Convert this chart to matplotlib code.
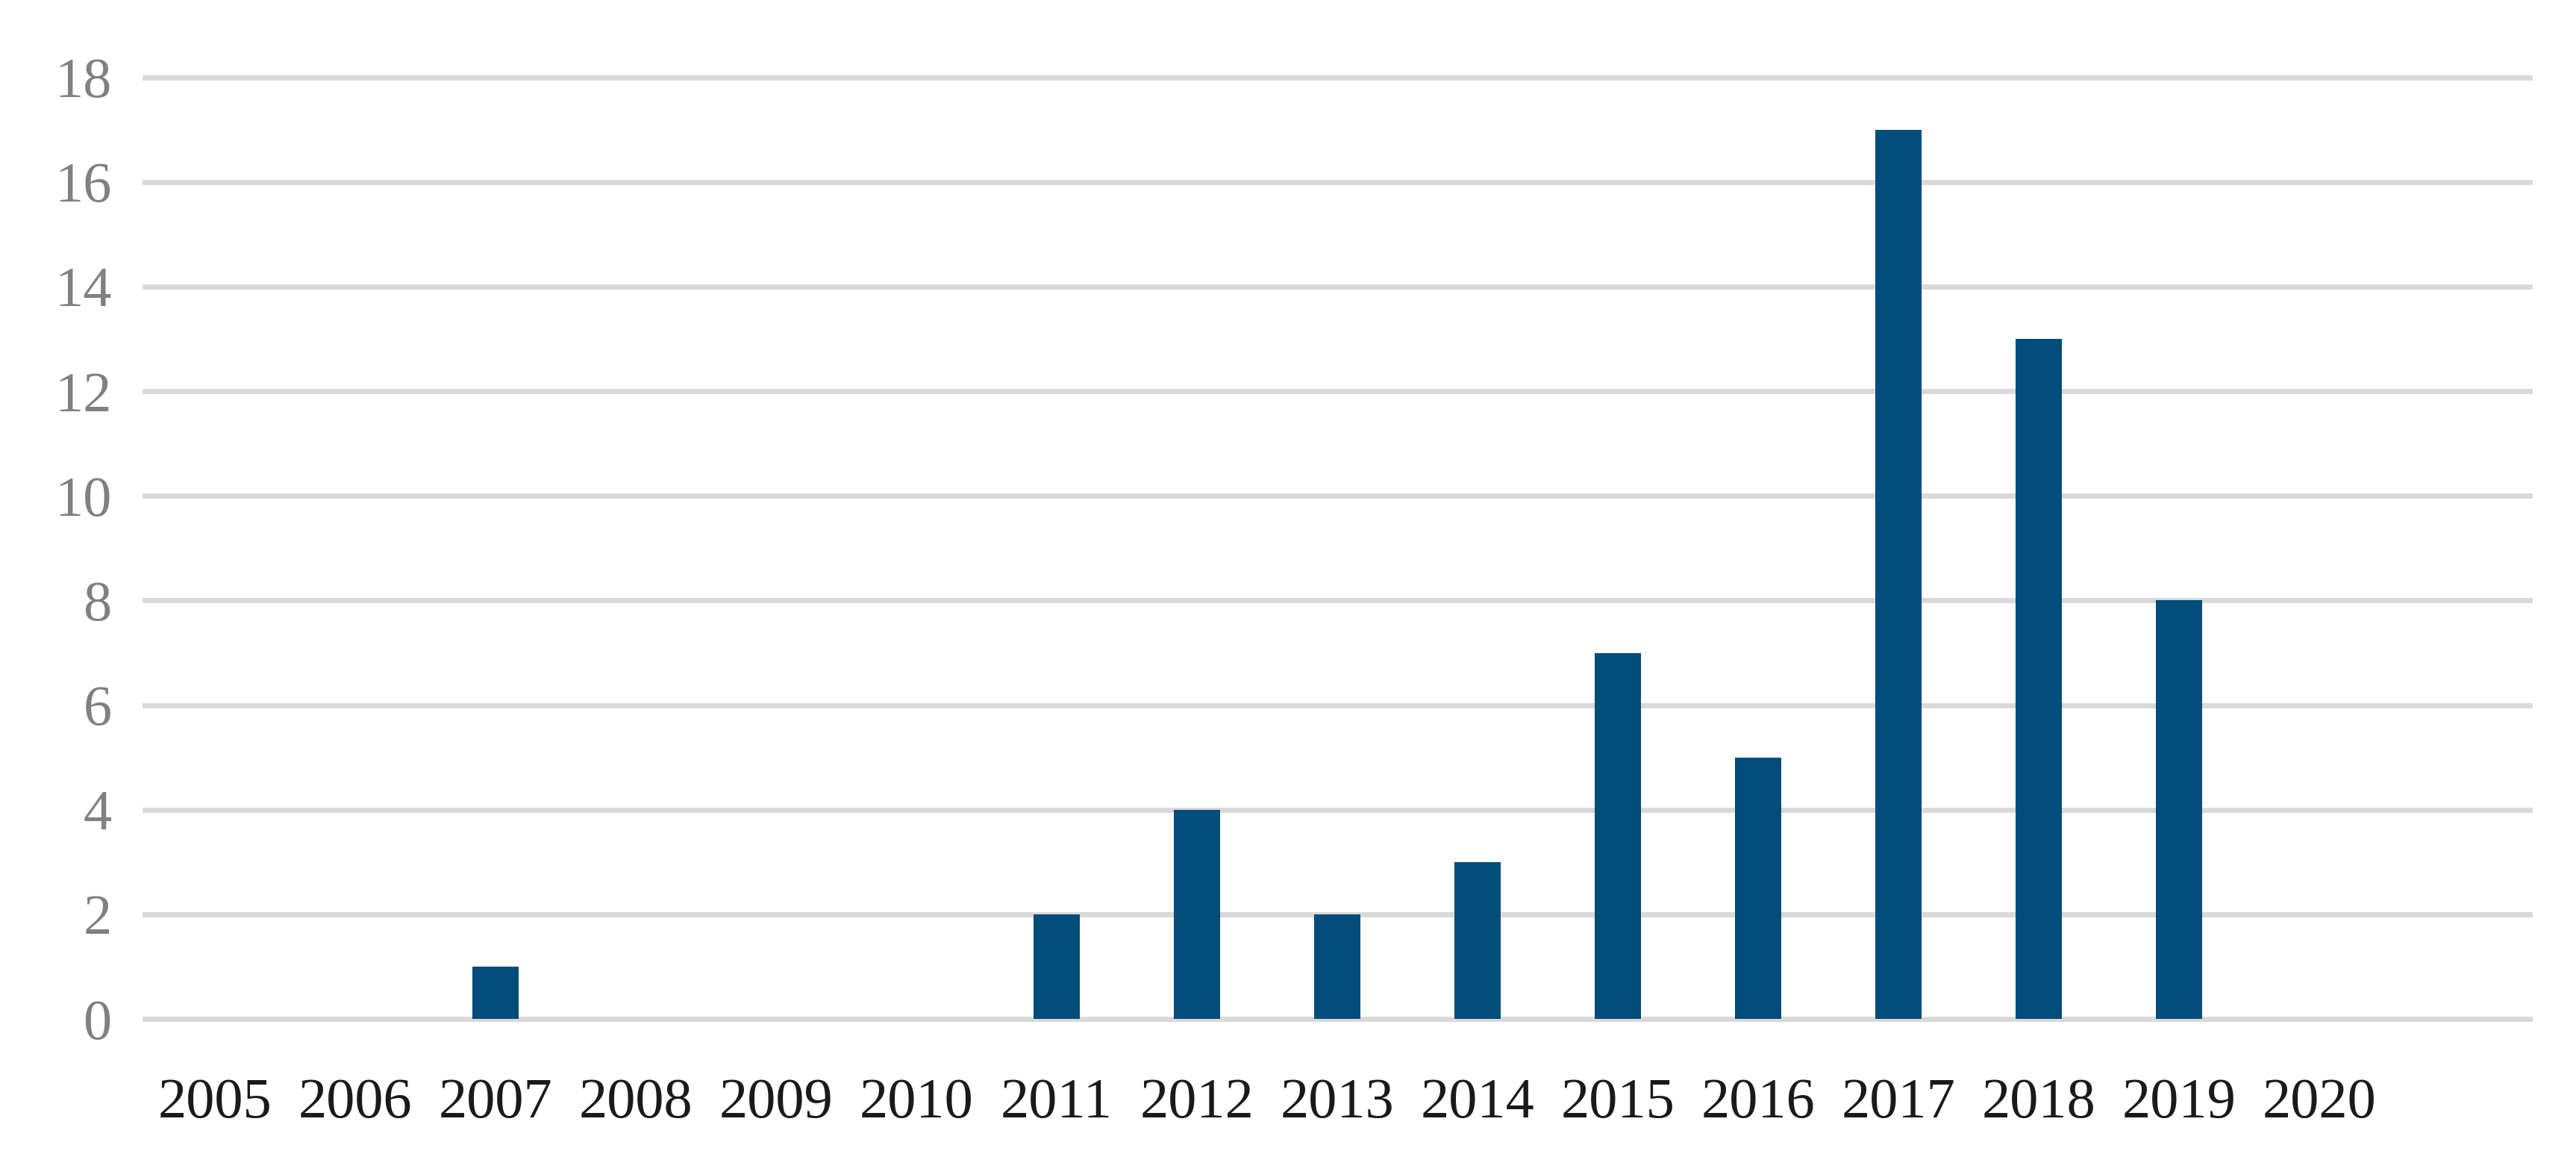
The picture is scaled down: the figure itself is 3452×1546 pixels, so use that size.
import matplotlib.pyplot as plt
import numpy as np

# data
years = ['2005', '2006', '2007', '2008', '2009', '2010', '2011', '2012',
         '2013', '2014', '2015', '2016', '2017', '2018', '2019', '2020', '']
counts = [0, 0, 1, 0, 0, 0, 2, 4, 2, 3, 7, 5, 17, 13, 8, 0, 0]

plt.rcParams['font.family'] = ['Liberation Serif', 'DejaVu Serif']

fig = plt.figure(figsize=(34.52, 15.46), dpi=100)
ax = fig.add_axes([0.0562, 0.117, 0.9258, 0.816])

x = np.arange(len(years))
ax.bar(x, counts, width=0.33, color='#014d7a', zorder=3)

ax.set_xlim(-0.5, len(years) - 0.5)
ax.set_ylim(0, 18)
ax.set_yticks(np.arange(0, 19, 2))
ax.set_xticks(x)
ax.set_xticklabels(years)

for y in np.arange(0, 19, 2):
    ax.axhline(y, color='#d9d9d9', linewidth=5, zorder=1, clip_on=False)

for s in ax.spines.values():
    s.set_visible(False)
ax.tick_params(axis='both', length=0)
ax.tick_params(axis='x', labelsize=55, labelcolor='#1a1a1a', pad=57)
ax.tick_params(axis='y', labelsize=55, labelcolor='#808080', pad=32)

fig.savefig('out.png', dpi=100, facecolor='white')
